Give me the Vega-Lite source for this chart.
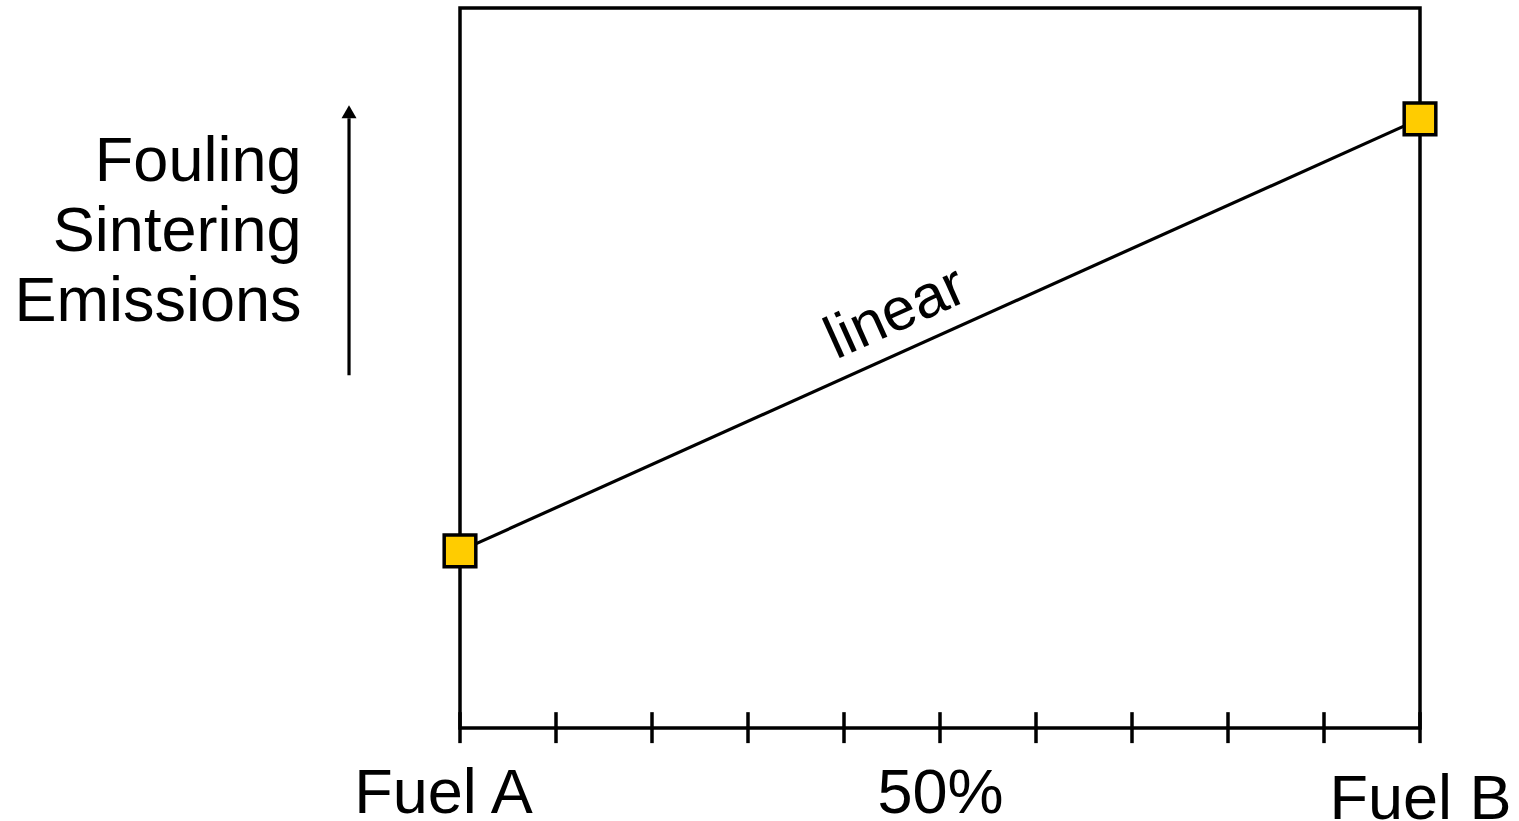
{
  "$schema": "https://vega.github.io/schema/vega-lite/v6.json",
  "width": 960,
  "height": 720,
  "autosize": {"type": "none"},
  "padding": {"left": 460, "top": 8, "right": 99, "bottom": 93},
  "background": "white",
  "config": {
    "view": {"stroke": "black", "strokeWidth": 3.5},
    "font": "Liberation Sans",
    "axis": {"grid": false}
  },
  "datasets": {
    "fuels": [
      {"share": 0, "impact": 24.6},
      {"share": 100, "impact": 84.6}
    ],
    "ticks": [
      {"share": 0}, {"share": 10}, {"share": 20}, {"share": 30}, {"share": 40}, {"share": 50},
      {"share": 60}, {"share": 70}, {"share": 80}, {"share": 90}, {"share": 100}
    ],
    "note": [{"label": "linear"}]
  },
  "layer": [
    {
      "data": {"name": "fuels"},
      "mark": {"type": "line", "color": "black", "strokeWidth": 3.2},
      "encoding": {
        "x": {
          "field": "share", "type": "quantitative",
          "scale": {"domain": [0, 100], "nice": false, "zero": false},
          "axis": {
            "values": [0, 50, 100],
            "labelExpr": "datum.value == 0 ? 'Fuel A' : datum.value == 100 ? 'Fuel B' : '50%'",
            "domain": false, "ticks": false, "tickSize": 0, "grid": false, "title": null,
            "labelFontSize": 63, "labelColor": "black", "labelFont": "Liberation Sans",
            "labelBaseline": "alphabetic", "labelAlign": "center", "labelLimit": 0,
            "labelPadding": {"condition": {"test": "datum.value == 100", "value": 90}, "value": 84},
            "labelOffset": {"condition": {"test": "datum.value == 0", "value": -17}, "value": 0},
            "labelFlush": false, "labelOverlap": false, "labelBound": false
          }
        },
        "y": {
          "field": "impact", "type": "quantitative",
          "scale": {"domain": [0, 100], "nice": false, "zero": false},
          "axis": {
            "title": ["Fouling", "Sintering", "Emissions"],
            "titleAngle": 0, "titleAlign": "right", "titleBaseline": "alphabetic",
            "titleX": -159, "titleY": 172, "titleFontSize": 63, "titleFontWeight": "normal",
            "titleFont": "Liberation Sans", "titleColor": "black", "titleLineHeight": 70,
            "domain": false, "ticks": false, "labels": false, "grid": false
          }
        }
      }
    },
    {
      "data": {"name": "ticks"},
      "mark": {"type": "rule", "color": "black", "strokeWidth": 3.5},
      "encoding": {
        "x": {"field": "share", "type": "quantitative", "scale": {"domain": [0, 100], "nice": false, "zero": false}},
        "y": {"datum": -2.1, "type": "quantitative", "scale": {"domain": [0, 100], "nice": false, "zero": false}},
        "y2": {"datum": 2.2}
      }
    },
    {
      "data": {"name": "fuels"},
      "mark": {"type": "point", "shape": "square", "filled": true, "fill": "#FFCC00", "stroke": "black", "strokeWidth": 3.5, "size": 1000, "opacity": 1},
      "encoding": {
        "x": {"field": "share", "type": "quantitative", "scale": {"domain": [0, 100], "nice": false, "zero": false}},
        "y": {"field": "impact", "type": "quantitative", "scale": {"domain": [0, 100], "nice": false, "zero": false}}
      }
    },
    {
      "data": {"name": "note"},
      "mark": {"type": "text", "angle": -24.2, "dy": -20, "fontSize": 60, "align": "center", "baseline": "alphabetic", "color": "black", "font": "Liberation Sans"},
      "encoding": {
        "text": {"field": "label"},
        "x": {"datum": 47.0, "type": "quantitative", "scale": {"domain": [0, 100], "nice": false, "zero": false}},
        "y": {"datum": 52.8, "type": "quantitative", "scale": {"domain": [0, 100], "nice": false, "zero": false}}
      }
    },
    {
      "data": {"name": "note"},
      "mark": {"type": "rule", "color": "black", "strokeWidth": 3.2},
      "encoding": {
        "x": {"datum": -11.56, "type": "quantitative", "scale": {"domain": [0, 100], "nice": false, "zero": false}},
        "y": {"datum": 49.0, "type": "quantitative", "scale": {"domain": [0, 100], "nice": false, "zero": false}},
        "y2": {"datum": 84.7}
      }
    },
    {
      "data": {"name": "note"},
      "mark": {"type": "point", "shape": "triangle-up", "filled": true, "color": "black", "size": 225, "opacity": 1},
      "encoding": {
        "x": {"datum": -11.56, "type": "quantitative", "scale": {"domain": [0, 100], "nice": false, "zero": false}},
        "y": {"datum": 85.6, "type": "quantitative", "scale": {"domain": [0, 100], "nice": false, "zero": false}}
      }
    }
  ]
}
